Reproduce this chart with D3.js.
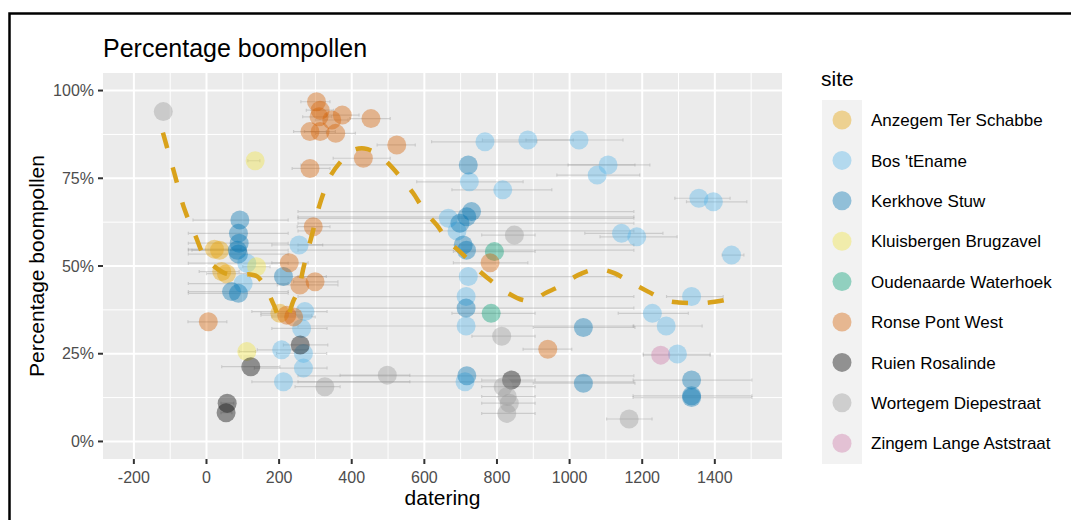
<!DOCTYPE html>
<html><head><meta charset="utf-8">
<script src="https://cdn.jsdelivr.net/npm/d3@7"></script>
<style>body{margin:0;background:#fff} text{font-family:"Liberation Sans",Arial,Helvetica,sans-serif}</style>
</head><body><svg id="c" width="1071" height="520"></svg>
<script>
// ---- data ----
const sites = ["Anzegem Ter Schabbe","Bos 'tEname","Kerkhove Stuw","Kluisbergen Brugzavel","Oudenaarde Waterhoek","Ronse Pont West","Ruien Rosalinde","Wortegem Diepestraat","Zingem Lange Aststraat"];
const siteColors = ["#E69F00","#56B4E9","#0072B2","#F0E442","#009E73","#D55E00","#000000","#999999","#CC79A7"];

// per point: site index, datering, percentage, datering min, datering max
const pSite = [0,0,0,0,0,
 1,1,1,1,1,1,1,1,1,1,1,1,1,1,1,1,1,1,1,1,1,1,1,1,1,1,1,1,1,1,1,
 2,2,2,2,2,2,2,2,2,2,2,2,2,2,2,2,2,2,2,2,2,
 3,3,3, 4,4,
 5,5,5,5,5,5,5,5,5,5,5,5,5,5,5,5,5,5,5,5,5,
 6,6,6,6,6,
 7,7,7,7,7,7,7,7,7,7,
 8];
const pDatering = [22,36,42,55,202,
 111,101,255,271,262,207,267,267,212,767,885,1026,1106,1076,724,816,1356,1396,666,690,1143,1185,1446,721,715,715,1228,1266,1297,1336,712,
 92,88,90,85,88,88,69,212,721,717,730,698,707,716,715,1038,1336,1336,1336,1038,717,
 134,138,111, 793,784,
 303,313,310,374,453,285,313,356,345,524,432,285,294,228,257,299,5,221,240,781,940,
 122,57,54,258,840,
 -119,326,498,848,813,817,828,834,827,1164,
 1251];
const pPct = [0.548,0.545,0.484,0.478,0.365,
 0.508,0.45,0.56,0.37,0.322,0.261,0.251,0.209,0.17,0.854,0.859,0.859,0.788,0.759,0.74,0.717,0.693,0.683,0.636,0.60,0.593,0.583,0.531,0.47,0.413,0.329,0.365,0.329,0.249,0.413,0.17,
 0.631,0.593,0.565,0.545,0.534,0.422,0.427,0.47,0.788,0.64,0.655,0.622,0.56,0.545,0.38,0.325,0.175,0.13,0.125,0.166,0.187,
 0.80,0.498,0.256, 0.541,0.365,
 0.968,0.944,0.925,0.93,0.92,0.883,0.883,0.878,0.916,0.845,0.807,0.778,0.612,0.509,0.446,0.455,0.341,0.36,0.355,0.509,0.263,
 0.213,0.109,0.082,0.275,0.175,
 0.94,0.156,0.189,0.588,0.30,0.156,0.128,0.109,0.08,0.064,
 0.246];
const pMin = [-50,-40,-20,0,150,
 -50,-50,180,125,180,140,193,132,125,620,760,880,996,965,579,676,1290,1322,252,252,1042,1084,1420,252,252,252,1134,1175,1203,1267,252,
 -37,-50,-50,-50,-50,-50,-50,120,260,252,252,252,252,252,252,900,1175,1175,1175,900,252,
 114,100,90, 680,676,
 260,275,265,330,395,240,270,300,300,470,349,236,250,180,195,240,-51,150,180,680,872,
 42,40,40,212,758,
 -119,244,368,758,731,758,758,758,758,1102,
 1203];
const pMax = [95,110,90,110,245,
 225,225,320,332,332,280,331,332,560,910,1010,1147,1221,1193,872,951,1442,1488,1177,1177,1257,1296,1480,1130,1177,1177,1327,1365,1387,1423,1177,
 225,225,225,225,225,225,225,330,1180,1177,1177,1177,1177,1177,1177,1180,1502,1502,1502,1180,1177,
 147,175,135, 905,905,
 340,350,345,420,506,330,355,410,390,575,506,340,340,280,362,362,56,290,300,885,1006,
 202,75,70,334,905,
 -119,368,560,905,905,905,905,905,905,1227,
 1387];

// smoothed trend line
const smoothX = [-120,-90,-60,-30,-5,20,50,90,120,140,166,185,205,222,239,253,266,277,294,302,322,340,372,404,435,469,500,541,569,602,634,668,703,748,781,830,871,900,932,971,1023,1064,1090,1125,1166,1216,1262,1300,1340,1367,1400,1428,1446];
const smoothY = [0.88,0.77,0.66,0.585,0.525,0.50,0.48,0.474,0.476,0.47,0.432,0.39,0.348,0.355,0.40,0.43,0.49,0.536,0.603,0.64,0.707,0.754,0.80,0.83,0.835,0.821,0.793,0.745,0.708,0.655,0.617,0.569,0.536,0.489,0.46,0.423,0.403,0.402,0.422,0.441,0.474,0.489,0.49,0.479,0.455,0.427,0.403,0.396,0.394,0.394,0.398,0.403,0.408];

const xTicks = [-200,0,200,400,600,800,1000,1200,1400];
const xMinor = [-100,100,300,500,700,900,1100,1300,1500];
const yTicks = [0,0.25,0.5,0.75,1];
const yMinor = [0.125,0.375,0.625,0.875];

// ---- drawing ----
const svg = d3.select("#c");
svg.append("rect").attr("width",1071).attr("height",520).attr("fill","#fff");
svg.append("path").attr("d","M9.5,530 L9.5,13.5 L1080,13.5").attr("fill","none").attr("stroke","#000").attr("stroke-width",2.5);

const x = d3.scaleLinear().domain([-285,1585]).range([103,782]);
const y = d3.scaleLinear().domain([-0.05,1.05]).range([459,73]);
const color = d3.scaleOrdinal().domain(sites).range(siteColors);

svg.append("rect").attr("x",103).attr("y",73).attr("width",679).attr("height",386).attr("fill","#EBEBEB");
const g = svg.append("g");
g.selectAll(".vmin").data(xMinor).join("line").attr("x1",d=>x(d)).attr("x2",d=>x(d)).attr("y1",73).attr("y2",459).attr("stroke","#fff").attr("stroke-width",1);
g.selectAll(".hmin").data(yMinor).join("line").attr("y1",d=>y(d)).attr("y2",d=>y(d)).attr("x1",103).attr("x2",782).attr("stroke","#fff").attr("stroke-width",1);
g.selectAll(".vmaj").data(xTicks).join("line").attr("x1",d=>x(d)).attr("x2",d=>x(d)).attr("y1",73).attr("y2",459).attr("stroke","#fff").attr("stroke-width",2);
g.selectAll(".hmaj").data(yTicks).join("line").attr("y1",d=>y(d)).attr("y2",d=>y(d)).attr("x1",103).attr("x2",782).attr("stroke","#fff").attr("stroke-width",2);

const pts = pSite.map((s,i)=>({site:sites[s],x:pDatering[i],y:pPct[i],lo:pMin[i],hi:pMax[i]}));

// error bars
const eb = svg.append("g").attr("stroke","#8a8a8a").attr("stroke-opacity",0.32).attr("stroke-width",1.2).attr("fill","none");
pts.filter(d=>d.hi>d.lo).forEach(d=>{
  const yy = y(d.y);
  eb.append("path").attr("d",`M${x(d.lo)},${yy-1.5}V${yy+1.5}M${x(d.lo)},${yy}H${x(d.hi)}M${x(d.hi)},${yy-1.5}V${yy+1.5}`);
});

// points
svg.append("g").selectAll("circle").data(pts).join("circle")
  .attr("cx",d=>x(d.x)).attr("cy",d=>y(d.y)).attr("r",9.5)
  .attr("fill",d=>color(d.site)).attr("fill-opacity",0.4);

// smooth line
const line = d3.line().x(d=>x(d[0])).y(d=>y(d[1])).curve(d3.curveCatmullRom);
svg.append("path").datum(smoothX.map((v,i)=>[v,smoothY[i]]))
  .attr("d",line).attr("fill","none").attr("stroke","#D9A21B").attr("stroke-width",4.5)
  .attr("stroke-dasharray","16,20");

// axes
const xa = svg.append("g");
xa.selectAll("line").data(xTicks).join("line").attr("x1",d=>x(d)).attr("x2",d=>x(d)).attr("y1",459).attr("y2",464).attr("stroke","#333").attr("stroke-width",2);
xa.selectAll("text").data(xTicks).join("text").attr("x",d=>x(d)).attr("y",483).attr("text-anchor","middle").attr("font-size",16).attr("fill","#4D4D4D").text(d=>d);
const ya = svg.append("g");
ya.selectAll("line").data(yTicks).join("line").attr("y1",d=>y(d)).attr("y2",d=>y(d)).attr("x1",98).attr("x2",103).attr("stroke","#333").attr("stroke-width",2);
ya.selectAll("text").data(yTicks).join("text").attr("x",94).attr("y",d=>y(d)).attr("dy","0.36em").attr("text-anchor","end").attr("font-size",16).attr("fill","#4D4D4D").text(d=>d3.format(".0%")(d));

svg.append("text").attr("x",442.5).attr("y",505).attr("text-anchor","middle").attr("font-size",21).attr("fill","#000").text("datering");
svg.append("text").attr("transform","translate(44,266) rotate(-90)").attr("text-anchor","middle").attr("font-size",21).attr("fill","#000").text("Percentage boompollen");
svg.append("text").attr("x",103).attr("y",57).attr("font-size",25).attr("fill","#000").text("Percentage boompollen");

// legend
const lg = svg.append("g");
lg.append("text").attr("x",821).attr("y",86).attr("font-size",21).attr("fill","#000").text("site");
lg.append("rect").attr("x",822).attr("y",100).attr("width",40).attr("height",364).attr("fill","#F2F2F2");
const rows = lg.selectAll("g.r").data(sites).join("g").attr("transform",(d,i)=>`translate(0,${120+i*40.4})`);
rows.append("circle").attr("cx",842).attr("cy",0).attr("r",9.5).attr("fill",d=>color(d)).attr("fill-opacity",0.4);
rows.append("text").attr("x",871).attr("y",0).attr("dy","0.36em").attr("font-size",17).attr("fill","#000").text(d=>d);
</script></body></html>
